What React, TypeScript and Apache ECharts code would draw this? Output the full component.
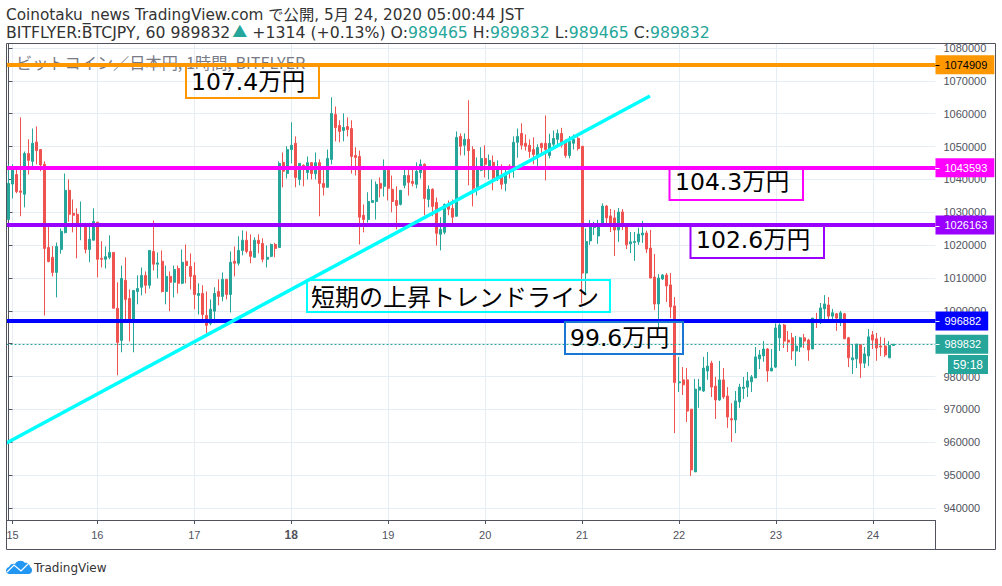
import React, { useEffect, useRef } from "react";
import * as echarts from "echarts";

const opens = [
1027800,1038600,1041500,1036500,1035500,1047900,1045500,1051400,1049100,1044600,
1019300,1016300,1011700,1018700,1023800,1036700,1029700,1029400,1026000,1026300,
1018700,1021500,1027000,1016000,1015700,1016300,1017800,1000800,991000,1009300,
1003800,997400,1005900,1007200,1010800,1007800,1018100,1014200,1015100,1005900,
1010500,1008700,1012900,1008400,1015100,1013500,1010800,1004700,1005300,998600,
996200,999900,1005900,1004400,1009600,1005000,1015100,1014500,1018400,1021500,
1018100,1016300,1021500,1020500,1015700,1016600,1020200,1019300,1045200,1041800,
1049100,1051000,1040000,1044300,1042100,1045100,1041700,1045100,1038800,1037600,
1046100,1059800,1056400,1054900,1056100,1055500,1047300,1047000,1029100,1027800,
1033000,1033300,1038800,1037900,1042800,1037000,1033600,1032400,1038200,1041200,
1039400,1038500,1042100,1044600,1033900,1037000,1033000,1023300,1023900,1032100,
1031200,1028800,1053100,1050400,1052200,1049100,1037600,1042800,1046400,1043400,
1045200,1040300,1041000,1038800,1044100,1043400,1051300,1054000,1051000,1050400,
1049100,1047100,1050900,1051000,1047300,1050700,1052200,1054000,1051600,1047300,
1051000,1052500,1050100,1011500,1021300,1025400,1022800,1026600,1031900,1028900,
1028300,1024600,1030100,1025800,1020400,1020800,1021000,1023100,1023700,1019100,
1010300,1002100,1009700,1010900,1007900,1001500,978100,979000,979000,970100,
951000,975900,975600,981700,984100,977100,972900,979000,974100,967200,
966800,972300,976400,976800,978400,979600,985400,986300,988400,981700,
982900,991800,995700,991100,991800,987800,989000,991800,991100,988400,
997200,997200,1000600,1001800,998400,999100,997200,999100,991800,985100,
985400,989700,984100,986300,992700,991500,989300,989300,985700,989465,
];
const highs = [
1044600,1044600,1043600,1058900,1048500,1052200,1055500,1056100,1049100,1045500,
1025800,1019700,1020800,1025100,1041800,1040000,1033900,1031200,1033300,1026800,
1026800,1031200,1027000,1021200,1019600,1023000,1017800,1008700,1013800,1016300,
1006500,1006200,1010800,1013200,1012000,1018400,1027500,1017800,1018400,1013800,
1012000,1013800,1013800,1018700,1020200,1017500,1014800,1008400,1007800,1005900,
1003500,1007200,1009600,1011700,1009600,1018100,1019600,1022700,1024500,1024200,
1023300,1022400,1023300,1022100,1019900,1020500,1020700,1045500,1048200,1050100,
1057400,1053100,1044900,1044600,1047000,1045100,1048200,1046100,1043100,1049100,
1065000,1062200,1058000,1060100,1058900,1058000,1049800,1048800,1032400,1036100,
1040000,1039400,1040600,1046100,1043100,1041200,1037900,1036700,1043100,1043100,
1043100,1045200,1046100,1044900,1038200,1037300,1034500,1028500,1032700,1033600,
1033900,1054600,1054000,1054000,1064100,1050100,1046700,1049800,1050400,1047600,
1047300,1045800,1044600,1043600,1044600,1053100,1055500,1057100,1053700,1052200,
1052800,1050700,1051200,1059500,1053900,1054900,1055200,1055700,1052200,1053200,
1053700,1053100,1050100,1025100,1027700,1027100,1027700,1032700,1032200,1031000,
1030700,1031300,1031000,1026100,1024000,1024000,1025300,1027400,1024400,1024600,
1017300,1011200,1011200,1011500,1011500,1004200,986000,982900,982600,970100,
979300,979300,986000,987500,984800,979900,984800,982600,976800,971900,
975600,977800,979900,981400,980500,989000,988100,990800,988700,988400,
996200,996200,996000,993900,993300,992400,992100,993000,991500,997800,
999400,1002400,1004800,1004200,1000600,999400,1000000,999400,992100,989900,
989900,989900,989000,994500,993900,993300,992100,991800,990800,989832,
];
const lows = [
1027800,1034200,1035800,1028800,1031500,1041500,1044100,1044600,1042500,998600,
1014800,1010500,1004100,1017400,1023600,1027100,1023900,1016000,1021500,1017500,
1014800,1021500,1010200,1013200,1012900,1015700,1000800,980400,987400,997400,
990700,987400,1002000,1004700,1005300,1006800,1012300,1009900,1005600,1002000,
999900,1004100,1005300,1008100,1008400,1006500,1000500,998900,997400,993200,
995600,996200,1001700,1002900,1003500,999500,1010500,1013800,1016900,1017500,
1014500,1016300,1017500,1014800,1013200,1016300,1016300,1019300,1037600,1040300,
1044900,1037600,1038200,1037900,1040000,1040000,1040000,1028800,1035100,1037600,
1044600,1051600,1051300,1051600,1053100,1041800,1041200,1020200,1023900,1026900,
1033000,1027800,1034500,1034800,1033600,1030000,1024800,1032100,1037300,1035100,
1037900,1037300,1040300,1029100,1031500,1028800,1019900,1018400,1023300,1029100,
1026600,1028800,1047300,1047300,1038200,1031800,1035100,1042500,1040600,1040000,
1036700,1039500,1037000,1036400,1040300,1040500,1046600,1049100,1048800,1046600,
1044600,1044100,1047600,1039700,1046400,1049100,1050700,1049700,1046600,1046400,
1049100,1048800,1002300,1004800,1020100,1023100,1020400,1025800,1025800,1024000,
1016700,1021000,1024600,1018800,1017600,1015200,1020100,1020700,1017600,1010000,
1000300,994700,1009400,1002700,997800,962800,975300,974400,966200,949800,
951000,970500,975300,979000,973800,967100,972600,973200,964400,960100,
962800,970500,973200,973800,975300,979600,982300,984500,978400,981700,
982600,987800,988700,987500,985100,983200,987500,988700,984800,988400,
994800,996000,997500,997200,997200,993900,995400,991500,982900,980800,
982600,979600,982600,983200,988400,984800,986300,986000,985700,989465,
];
const closes = [
1038800,1043600,1036300,1036100,1047900,1045800,1051000,1048800,1044400,1019000,
1015000,1011700,1019600,1024200,1036700,1029400,1029100,1025800,1026600,1018700,
1021800,1027200,1015700,1015700,1016500,1017800,1000800,990400,1009900,1003500,
997400,1006200,1006800,1010800,1007800,1018400,1014200,1014600,1005900,1010500,
1008700,1012600,1008400,1014800,1013800,1010500,1005000,1005300,998900,995600,
1000500,1005300,1004400,1009600,1005000,1014800,1014500,1018400,1021500,1018100,
1016600,1021500,1020500,1015700,1016300,1020200,1019000,1044900,1042500,1049100,
1050400,1040600,1044900,1043100,1045100,1041800,1045100,1038800,1037600,1046400,
1060100,1055800,1054600,1055800,1055200,1047000,1046700,1028500,1027800,1033300,
1033600,1038500,1037300,1042800,1037300,1033300,1032100,1036700,1041200,1039100,
1038800,1042500,1044600,1034200,1037000,1031800,1023600,1024800,1032400,1030900,
1028500,1052800,1050100,1052200,1048800,1037300,1043700,1046400,1044600,1045800,
1040500,1043100,1038500,1041900,1043400,1051300,1053100,1050400,1050100,1048500,
1047600,1049700,1049700,1049100,1051000,1052500,1054000,1050400,1047300,1051600,
1052200,1049400,1011500,1021100,1025800,1026100,1025800,1031900,1028300,1026700,
1024600,1030100,1026100,1020100,1021000,1021100,1023400,1023700,1018800,1010000,
1002100,1010000,1010900,1007600,1001200,978200,978400,977500,969500,951600,
976200,976800,982600,983200,976800,972900,979000,973800,967700,966800,
972600,976800,976800,978700,979900,986000,986600,988400,981700,982600,
994800,995700,990800,990500,987800,989300,991800,990800,988100,997800,
996600,1000900,1002100,998400,999400,997800,999400,991500,985700,985700,
989900,984100,986900,992100,991100,988700,989000,986600,989465,989832,
];

const BAR_SLOTS = 230;
const dayIndexes = [1, 22, 46, 70, 94, 118, 142, 166, 190, 214];
const dayLabels = ["15", "16", "17", "18", "19", "20", "21", "22", "23", "24"];
const yTicks = [940000, 950000, 960000, 970000, 980000, 990000, 1000000, 1010000, 1020000, 1030000, 1040000, 1050000, 1060000, 1070000, 1080000];
const yMin = 936360;
const yMax = 1081369;
const levelValues = [1074909, 1043593, 1026163, 996882];
const levelColors = ["#ff9800", "#ff00ff", "#9900ff", "#0000ff"];
const levelTextColors = ["#000000", "#ffffff", "#ffffff", "#ffffff"];
const lastPrice = 989832;
const trendX = [-0.5, 158.8];
const trendY = [959800, 1065400];

const UP = "#26a69a";
const DOWN = "#ef5350";
const AXIS = "#50535e";
const GRID = "#e6edf3";
const FONT = '"DejaVu Sans", "Noto Sans CJK JP", sans-serif';
const NOTE_FONT = '"Noto Sans CJK JP", sans-serif';
const AXIS_FONT = '"Liberation Sans", sans-serif';

echarts.graphic.registerShape(
  "tvcloud",
  echarts.graphic.extendPath(
    "M3 14 C-1 13 -1 8 3 7 C4 4 7 3 9 4 C11 0 17 0 19 3 C21 2 24 4 24 7 C27 8 27 13 23 14 Z",
    {}
  )
);

function App() {
  const ref = useRef<HTMLDivElement>(null);
  useEffect(() => {
    const chart = echarts.init(ref.current!, null, { renderer: "svg" });
    const categories = Array.from({ length: BAR_SLOTS }, (_, i) => String(i));
    const candles = opens.map((o, i) => [o, closes[i], lows[i], highs[i]]);
    const isDay = (i: number) => dayIndexes.includes(i);

    const frame = [
      [6.5, 43.5, 995.5, 43.5],
      [6.5, 43.5, 6.5, 549.5],
      [6.5, 549.5, 995.5, 549.5],
      [995.5, 43.5, 995.5, 549.5],
      [935.5, 520.5, 935.5, 549.5],
    ].map(([x1, y1, x2, y2]) => ({
      type: "line",
      z: 12,
      shape: { x1, y1, x2, y2 },
      style: { stroke: AXIS, lineWidth: 1 },
    }));

    const noteBox = (x: number, y: number, w: number, h: number, color: string) => ({
      type: "rect",
      z: 10,
      shape: { x, y, width: w, height: h },
      style: { fill: "transparent", stroke: color, lineWidth: 2 },
    });
    const noteText = (x: number, y: number, text: string, font: string) => ({
      type: "text",
      z: 11,
      x,
      y,
      style: { text, fill: "#000", font, verticalAlign: "middle" },
    });
    const moneyFont = `23.5px "DejaVu Sans", ${NOTE_FONT}`;

    const tagTick = (y: number, color: string) => ({
      type: "line",
      z: 20,
      shape: { x1: 935.5, y1: y, x2: 939.5, y2: y },
      style: { stroke: color, lineWidth: 1 },
    });

    const tagLabel = (text: string, color: string, bg: string) => ({
      show: true,
      position: "end",
      distance: 0,
      formatter: text,
      color,
      backgroundColor: bg,
      padding: [4, 7, 4, 9],
      lineHeight: 11,
      fontSize: 11,
      fontFamily: AXIS_FONT,
    });

    chart.setOption({
      animation: false,
      backgroundColor: "#ffffff",
      grid: { left: 6.5, top: 43.5, width: 929, height: 476.5, containLabel: false },
      xAxis: [
        {
          type: "category",
          data: categories,
          boundaryGap: true,
          axisLine: { show: true, lineStyle: { color: AXIS } },
          axisTick: { show: true, alignWithLabel: true, length: 4, interval: (i: number) => isDay(i), lineStyle: { color: AXIS } },
          axisLabel: {
            show: true,
            interval: (i: number) => isDay(i),
            margin: 9,
            fontSize: 11,
            fontFamily: AXIS_FONT,
            color: AXIS,
            formatter: (_: string, i: number) => {
              const label = dayLabels[dayIndexes.indexOf(i)] ?? "";
              return label === "18" ? `{b|${label}}` : label;
            },
            rich: { b: { fontWeight: "bold", fontSize: 12, color: AXIS, fontFamily: AXIS_FONT } },
          },
          splitLine: { show: false },
        },
        {
          type: "value",
          min: -0.5,
          max: BAR_SLOTS - 0.5,
          show: true,
          position: "bottom",
          axisLine: { show: false },
          axisTick: { show: false, customValues: dayIndexes },
          axisLabel: { show: false, customValues: dayIndexes },
          splitLine: { show: true, lineStyle: { color: GRID, width: 1 } },
        },
      ],
      yAxis: {
        type: "value",
        position: "right",
        min: yMin,
        max: yMax,
        scale: true,
        axisLine: { show: true, lineStyle: { color: AXIS } },
        axisTick: { show: true, length: 4, lineStyle: { color: AXIS }, customValues: yTicks },
        axisLabel: {
          show: true,
          margin: 8,
          fontSize: 11,
          fontFamily: AXIS_FONT,
          color: AXIS,
          customValues: yTicks,
          formatter: (v: number) => String(v),
        },
        splitLine: { show: true, lineStyle: { color: GRID, width: 1 } },
      },
      series: [
        {
          type: "candlestick",
          xAxisIndex: 0,
          yAxisIndex: 0,
          z: 2,
          barWidth: 2.5,
          data: candles,
          itemStyle: { color: UP, color0: DOWN, borderColor: UP, borderColor0: DOWN, borderWidth: 1 },
          markLine: {
            z: 3,
            silent: true,
            symbol: "none",
            animation: false,
            data: [
              {
                yAxis: lastPrice,
                lineStyle: { color: UP, width: 1, type: [2, 2] },
                label: tagLabel(String(lastPrice), "#fff", UP),
              },
              ...levelValues.map((v, i) => ({
                yAxis: v,
                lineStyle: { color: levelColors[i], width: 4, type: "solid" },
                label: tagLabel(String(v), levelTextColors[i], levelColors[i]),
              })),
            ],
          },
        },
        {
          type: "line",
          xAxisIndex: 1,
          yAxisIndex: 0,
          z: 6,
          symbol: "none",
          silent: true,
          data: trendX.map((x, i) => [x, trendY[i]]),
          lineStyle: { color: "#00ffff", width: 3.5 },
        },
      ],
      graphic: [
        ...frame,
        {
          type: "text", z: 1, x: 16, y: 62,
          style: {
            text: "ビットコイン／日本円, 1時間, BITFLYER",
            fill: "#787b86", font: `16.2px ${NOTE_FONT}`, verticalAlign: "middle",
          },
        },
        {
          type: "text", z: 12, x: 6, y: 15,
          style: {
            text: "Coinotaku_news TradingView.com で公開, 5月 24, 2020 05:00:44 JST",
            fill: "#333", font: `15.3px ${FONT}`, verticalAlign: "middle",
          },
        },
        {
          type: "text", z: 12, x: 6, y: 32,
          style: {
            text: "{d|BITFLYER:BTCJPY, 60 989832}{t|▲}{d| +1314 (+0.13%) O:}{v|989465}{d| H:}{v|989832}{d| L:}{v|989465}{d| C:}{v|989832}",
            verticalAlign: "middle",
            rich: {
              d: { fill: "#333", fontSize: 15.7, fontFamily: FONT },
              v: { fill: UP, fontSize: 15.7, fontFamily: FONT },
              t: { fill: UP, fontSize: 15, fontFamily: NOTE_FONT, padding: [0, 0, 3, 2] },
            },
          },
        },
        noteBox(186, 66, 133, 32, "#ff9800"),
        noteBox(669.5, 168, 133.5, 32, "#ff00ff"),
        noteBox(690.5, 226, 133.5, 32, "#9900ff"),
        noteBox(307, 280, 303, 32, "#00ffff"),
        noteBox(565, 322, 118, 32, "#1976d2"),
        noteText(191, 82, "107.4万円", moneyFont),
        noteText(675, 182, "104.3万円", moneyFont),
        noteText(696, 240, "102.6万円", moneyFont),
        noteText(311, 295, "短期の上昇トレンドライン", `24px ${NOTE_FONT}`),
        noteText(570, 338, "99.6万円", moneyFont),
        {
          type: "rect", z: 19,
          shape: { x: 948, y: 355, width: 40, height: 19 },
          style: { fill: UP },
        },
        {
          type: "text", z: 20, x: 968, y: 365,
          style: {
            text: "59:18", fill: "#fff", font: `12px ${AXIS_FONT}`,
            align: "center", verticalAlign: "middle",
          },
        },
        tagTick(65.5, "#000"),
        tagTick(168.5, "#fff"),
        tagTick(226.5, "#fff"),
        tagTick(321.5, "#fff"),
        tagTick(344.5, "#fff"),
        { type: "tvcloud", z: 12, x: 6, y: 560, style: { fill: "#2196f3" } },
        {
          type: "polyline", z: 13,
          shape: { points: [[7, 572], [14, 565], [21, 571], [29, 563]] },
          style: { stroke: "#fff", lineWidth: 1.2, fill: "none" },
        },
        {
          type: "text", z: 12, x: 34, y: 568,
          style: { text: "TradingView", fill: "#333", font: `12px ${FONT}`, verticalAlign: "middle" },
        },
      ],
    } as any);
    return () => chart.dispose();
  }, []);
  return <div ref={ref} style={{ position: "fixed", left: 0, top: 0, width: 1002, height: 586, background: "#fff" }} />;
}

export default App;
